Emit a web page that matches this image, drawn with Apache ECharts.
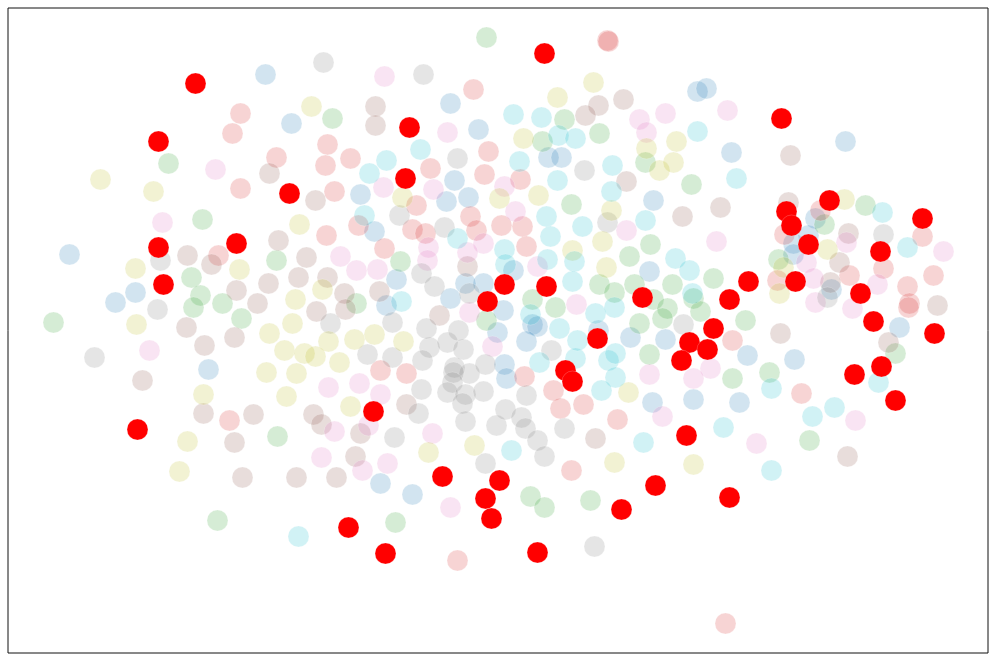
<!DOCTYPE html>
<html><head><meta charset="utf-8">
<style>html,body{margin:0;padding:0;background:#fff}#c{width:996px;height:661px}</style>
<script src="https://cdn.jsdelivr.net/npm/echarts@6/dist/echarts.min.js"></script>
</head><body><div id="c"></div>
<script>
const blue=[[265,74],[291,123],[69,254],[135,292],[115,302],[208,369],[380,483],[412,494],[450,103],[478,129],[548,157],[561,157],[454,180],[360,194],[446,201],[468,197],[653,200],[374,231],[513,270],[396,279],[483,283],[465,283],[386,305],[450,298],[503,310],[532,324],[537,326],[497,332],[526,341],[504,364],[506,378],[630,337],[665,339],[652,402],[649,271],[598,330],[697,91],[706,88],[731,152],[845,141],[815,218],[808,235],[793,243],[793,254],[831,289],[899,327],[747,355],[794,359],[693,399],[739,402]];
const green=[[332,118],[168,163],[202,219],[276,260],[191,277],[200,295],[193,307],[222,303],[241,318],[53,322],[277,436],[217,520],[530,496],[544,507],[590,500],[395,522],[649,354],[486,320],[486,37],[564,119],[542,141],[599,133],[645,162],[571,204],[650,244],[629,256],[599,284],[614,292],[634,284],[532,299],[555,307],[653,299],[667,308],[639,323],[662,318],[356,303],[400,261],[691,184],[865,205],[824,224],[778,259],[672,284],[713,278],[693,298],[700,311],[745,320],[732,378],[769,372],[895,353],[809,440]];
const redLight=[[240,113],[232,133],[276,157],[327,144],[325,165],[240,188],[334,191],[326,235],[218,255],[229,420],[380,370],[406,373],[524,376],[553,390],[560,408],[583,404],[617,419],[571,470],[457,560],[607,40],[608,41],[473,89],[488,151],[484,174],[520,179],[430,168],[350,158],[416,205],[470,216],[412,229],[425,233],[476,230],[501,225],[522,226],[526,246],[358,225],[384,248],[820,210],[784,234],[922,236],[883,268],[933,275],[849,275],[777,280],[907,286],[909,303],[908,307],[732,340],[801,393],[725,623]];
const brown=[[269,173],[315,200],[278,240],[187,255],[211,264],[306,257],[236,290],[298,277],[327,277],[268,283],[257,303],[316,311],[344,293],[186,327],[204,345],[234,337],[142,380],[203,413],[253,414],[234,442],[242,477],[296,477],[336,477],[313,414],[321,424],[406,404],[360,433],[355,456],[595,438],[375,106],[375,125],[598,105],[585,115],[623,99],[626,181],[467,266],[379,291],[345,309],[439,315],[790,155],[682,216],[720,207],[788,202],[848,233],[839,262],[830,282],[780,333],[937,305],[888,342],[847,456]];
const pink=[[215,169],[162,222],[340,256],[149,350],[321,457],[334,431],[328,387],[359,383],[380,394],[368,425],[362,470],[387,463],[432,433],[450,507],[492,346],[649,374],[662,416],[384,76],[447,132],[639,119],[665,113],[646,132],[504,186],[383,187],[433,189],[515,211],[626,230],[428,247],[483,243],[467,252],[427,260],[356,270],[377,269],[537,266],[576,304],[469,312],[727,110],[716,241],[943,251],[846,242],[806,262],[813,278],[877,284],[815,302],[852,308],[710,368],[693,378],[756,443],[855,420]];
const gray=[[323,62],[160,260],[157,309],[330,323],[94,357],[367,354],[392,357],[429,347],[426,328],[447,342],[463,349],[458,330],[422,360],[454,367],[469,373],[453,372],[452,382],[447,392],[465,394],[483,391],[421,389],[462,403],[418,413],[465,421],[485,364],[496,425],[505,409],[521,417],[525,428],[537,440],[544,456],[564,428],[526,395],[551,350],[394,437],[485,463],[594,546],[392,322],[421,273],[434,286],[444,227],[457,158],[423,74],[399,215],[584,170],[607,222],[469,293],[883,234],[683,324],[827,297]];
const olive=[[311,106],[100,179],[153,191],[299,224],[135,268],[239,269],[322,289],[295,299],[136,324],[292,323],[269,333],[328,341],[284,350],[304,353],[315,356],[339,362],[266,372],[296,373],[286,396],[203,394],[187,441],[179,471],[354,339],[374,334],[403,341],[350,406],[428,452],[474,445],[614,462],[628,392],[593,82],[557,97],[523,138],[646,148],[659,170],[676,141],[673,162],[402,197],[499,198],[538,195],[611,210],[602,241],[572,250],[606,267],[844,199],[827,249],[783,267],[779,293],[693,464]];
const cyan=[[511,450],[539,362],[575,358],[577,340],[559,328],[608,360],[615,353],[615,377],[601,390],[643,442],[298,536],[513,114],[541,117],[558,135],[575,138],[420,149],[386,160],[369,173],[519,161],[612,165],[557,180],[611,191],[364,215],[546,216],[582,226],[645,220],[550,236],[457,238],[504,249],[505,264],[547,259],[574,261],[572,281],[401,301],[595,313],[614,307],[530,314],[697,131],[736,178],[882,212],[907,247],[675,258],[689,270],[692,293],[771,388],[812,416],[834,407],[878,382],[723,427],[771,470]];
const highlighted=[[195,83],[158,141],[289,193],[236,243],[158,247],[163,284],[137,429],[373,411],[442,476],[499,480],[485,498],[491,518],[348,527],[385,553],[537,552],[621,509],[655,485],[565,370],[572,381],[597,338],[544,53],[409,127],[405,178],[504,284],[546,286],[487,301],[642,297],[781,118],[786,211],[791,225],[829,200],[808,244],[922,218],[880,251],[795,281],[748,281],[729,299],[860,293],[873,321],[713,328],[934,333],[689,342],[707,349],[681,360],[686,435],[729,497],[854,374],[881,366],[895,400]];

const layers=[
  [blue,'rgba(31,119,180,0.2)'],[green,'rgba(44,160,44,0.2)'],[redLight,'rgba(214,39,40,0.2)'],
  [brown,'rgba(140,86,75,0.2)'],[pink,'rgba(227,119,194,0.2)'],[gray,'rgba(127,127,127,0.2)'],
  [olive,'rgba(188,189,34,0.2)'],[cyan,'rgba(23,190,207,0.2)']
];
const series=layers.map(([d,c])=>({type:'scatter',data:d,symbolSize:21,silent:true,
  itemStyle:{color:c,borderColor:'rgba(255,255,255,0.2)',borderWidth:1,opacity:1}}));
series.push({type:'scatter',data:highlighted,symbolSize:21,silent:true,z:5,
  itemStyle:{color:'#ff0000',borderColor:'rgba(255,255,255,0.2)',borderWidth:1,opacity:1}});
const chart=echarts.init(document.getElementById('c'),null,{renderer:'canvas'});
chart.setOption({animation:false,backgroundColor:'#fff',
  grid:{left:8,right:8,top:8,bottom:8,show:true,borderColor:'#111',borderWidth:1,backgroundColor:'#fff'},
  xAxis:{type:'value',min:7.5,max:987.5,show:false},
  yAxis:{type:'value',min:7.5,max:652.5,inverse:true,show:false},
  series});
</script></body></html>
